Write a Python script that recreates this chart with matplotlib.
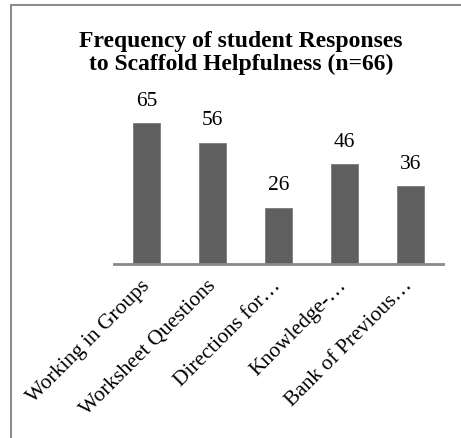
import matplotlib.pyplot as plt
import matplotlib.patches as mpatches

# ── Data ──────────────────────────────────────────────────────────────────────
categories = [
    "Working in Groups",
    "Worksheet Questions",
    "Directions for…",
    "Knowledge-…",
    "Bank of Previous…",
]
counts = [65, 56, 26, 46, 36]

TITLE = "Frequency of student Responses\nto Scaffold Helpfulness (n=66)"

BAR_COLOR  = "#5f5f5f"
AXIS_COLOR = "#8a8a8a"
FRAME_COLOR = "#8c8c8c"

plt.rcParams["font.family"] = ["Liberation Serif", "DejaVu Serif"]

W, H = 461, 438
fig = plt.figure(figsize=(W / 100, H / 100), dpi=100)

# chart frame (open on the right / bottom edge of the canvas)
fig.patches.append(mpatches.Rectangle(
    (10.5 / W, -0.05), 1.2, (H - 4.5) / H + 0.05,
    transform=fig.transFigure, fill=False,
    edgecolor=FRAME_COLOR, linewidth=1.5,
))

ax = fig.add_axes([114 / W, 174 / H, 329 / W, 151.5 / H])
x = range(len(categories))
ax.bar(x, counts, width=0.41, color=BAR_COLOR, edgecolor="#7a7a7a",
       linewidth=0.6, zorder=2)
ax.set_xlim(-0.5, len(categories) - 0.5)
ax.set_ylim(0, 70)

for i, v in enumerate(counts):
    ax.annotate(str(v), (i, v), xytext=(0, 9), textcoords="offset points",
                ha="center", va="bottom", fontsize=15.5)

for side in ("top", "right", "left"):
    ax.spines[side].set_visible(False)
ax.spines["bottom"].set_color(AXIS_COLOR)
ax.spines["bottom"].set_linewidth(2)
ax.set_yticks([])
ax.set_xticks(list(x))
ax.set_xticklabels(categories, rotation=45, ha="right", va="center",
                   rotation_mode="anchor", fontsize=15.5)
ax.tick_params(axis="x", length=0, pad=14)

fig.text(241 / W, 1 - 53 / H, TITLE, ha="center", va="center",
         fontsize=17, fontweight="bold", linespacing=1.12)

fig.savefig("out.png", dpi=100, facecolor="white")
